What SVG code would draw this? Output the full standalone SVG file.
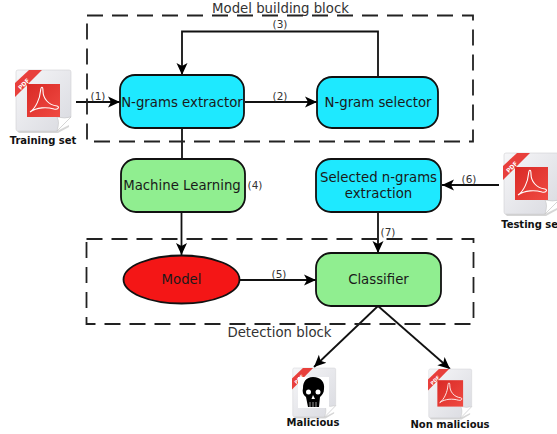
<svg xmlns="http://www.w3.org/2000/svg" width="557" height="434" viewBox="0 0 557 434">
<style>
text{font-family:"DejaVu Sans",sans-serif;fill:#1a1a1a}
.n{font-size:13.300px;text-anchor:middle}
.l{font-size:10.500px;text-anchor:middle;fill:#333}
.c{font-size:10px;font-weight:bold;text-anchor:middle;fill:#111}
.b{font-size:13.300px;text-anchor:middle;fill:#333}
.p{font-size:6px;font-weight:bold;fill:#fff;text-anchor:middle}
.box{stroke:#111;stroke-width:1.800}
.cy{fill:#1ee9ff}.gr{fill:#90ee90}
.dash{fill:none;stroke:#222;stroke-width:1.800;stroke-dasharray:16 9}
.ln{fill:none;stroke:#111;stroke-width:1.800}
</style>
<defs>
<marker id="a" markerUnits="userSpaceOnUse" markerWidth="13" markerHeight="13" refX="12" refY="6.500" orient="auto"><path d="M0 1L12 6.500L0 12L3 6.500Z" fill="#000"/></marker>
<linearGradient id="pg" x1="0" y1="0" x2="1" y2="1"><stop offset="0" stop-color="#f6f6f8"/><stop offset="1" stop-color="#d9dae0"/></linearGradient>
<linearGradient id="rg" x1="0" y1="0" x2="1" y2="1"><stop offset="0" stop-color="#d92a26"/><stop offset="1" stop-color="#f04a42"/></linearGradient>
<g id="sheet">
<path d="M3 0H54Q56 0 56 2V47L42 61H3Q1 61 1 59V2Q1 0 3 0Z" fill="url(#pg)" stroke="#d0d0d4" stroke-width=".6"/>
<path d="M2 61H42L54 55V57L43 63H4Z" fill="#bbb" opacity=".6"/>
<path d="M56 47L42 61Q45 52 42 47Q50 49 56 47Z" fill="#fff" stroke="#bbb" stroke-width=".5"/>
<path d="M0 13V27L27 0H14Z" fill="#e8403c"/>
<text class="p" transform="translate(10.500 15.500) rotate(-45)">PDF</text>
</g>
<g id="acro">
<rect x="12" y="14" width="33" height="33" fill="url(#rg)"/>
<path d="M15 42C21 38 25 28 25.500 21C26 16 28 16 28 21C28 28 33 35 42 36C45 37 43 40 39 39C32 37 22 37 15 42Z" fill="none" stroke="#fff" stroke-width="1.100"/>
</g>
</defs>
<g id="connectors">
<path class="ln" d="M76 102H120" marker-end="url(#a)"/>
<path class="ln" d="M245 102H317" marker-end="url(#a)"/>
<path class="ln" d="M378 77V31.500H182V75" marker-end="url(#a)"/>
<path class="ln" d="M182 128V159"/>
<path class="ln" d="M181.500 212V255" marker-end="url(#a)"/>
<path class="ln" d="M240 280H316" marker-end="url(#a)"/>
<path class="ln" d="M499 185H442" marker-end="url(#a)"/>
<path class="ln" d="M378 212V253" marker-end="url(#a)"/>
<path class="ln" d="M378 306L314 367" marker-end="url(#a)"/>
<path class="ln" d="M378 306L450 369" marker-end="url(#a)"/>
<text class="l" x="98" y="100">(1)</text>
<text class="l" x="280" y="100">(2)</text>
<text class="l" x="280" y="28">(3)</text>
<text class="l" x="255" y="189">(4)</text>
<text class="l" x="279" y="278">(5)</text>
<text class="l" x="469" y="183">(6)</text>
<text class="l" x="388" y="236">(7)</text>
</g>
<g id="model-building-block">
<rect class="dash" x="87" y="15.500" width="386" height="126"/>
<text class="b" x="280.500" y="12.500">Model building block</text>
</g>
<g id="detection-block">
<rect class="dash" x="86.500" y="239" width="387" height="85"/>
<text class="b" x="279.500" y="336.500">Detection block</text>
</g>
<g id="ngrams-extractor"><rect class="box cy" x="120" y="75" width="124" height="53" rx="15"/><text class="n" x="182" y="106.500">N-grams extractor</text></g>
<g id="ngram-selector"><rect class="box cy" x="317" y="77" width="121" height="51" rx="15"/><text class="n" x="378" y="107">N-gram selector</text></g>
<g id="machine-learning"><rect class="box gr" x="121" y="159" width="124" height="53" rx="15"/><text class="n" x="182" y="190">Machine Learning</text></g>
<g id="selected-extraction"><rect class="box cy" x="316" y="159" width="125" height="53" rx="15"/><text class="n" x="378.500" y="182">Selected n-grams</text><text class="n" x="378.500" y="198">extraction</text></g>
<g id="model"><ellipse class="box" cx="181.500" cy="279.500" rx="58" ry="24" fill="#f41616"/><text class="n" x="181.500" y="284">Model</text></g>
<g id="classifier"><rect class="box gr" x="316" y="253" width="125" height="53" rx="15"/><text class="n" x="378.500" y="284">Classifier</text></g>
<g id="training-set"><use href="#sheet" x="15" y="70"/><use href="#acro" x="15" y="70"/><text class="c" x="43" y="144">Training set</text></g>
<g id="testing-set"><use href="#sheet" x="503" y="153"/><use href="#acro" x="503" y="153"/><text class="c" x="532" y="228">Testing set</text></g>
<g id="malicious"><use href="#sheet" transform="translate(292 368) scale(.78 .8)"/>
<rect x="298" y="377" width="31" height="31" fill="#fff"/>
<path d="M313 377C321 377 325 382 324 389C324 393 322 395 320 397L319 407H308L306 397C303 395 302 392 303 388C303 382 306 377 313 377Z" fill="#000"/>
<circle cx="308.500" cy="392" r="2.500" fill="#fff"/><circle cx="318" cy="392" r="2.500" fill="#fff"/>
<path d="M313 395L311.500 399H315Z" fill="#fff"/>
<path d="M310 402V407M313 402V407M316 402V407" stroke="#fff" stroke-width=".6"/>
<text class="c" x="313" y="426">Malicious</text></g>
<g id="non-malicious"><use href="#sheet" transform="translate(428 369) scale(.78 .8)"/><use href="#acro" transform="translate(428 369) scale(.78 .8)"/><text class="c" x="450" y="428">Non malicious</text></g>
</svg>
